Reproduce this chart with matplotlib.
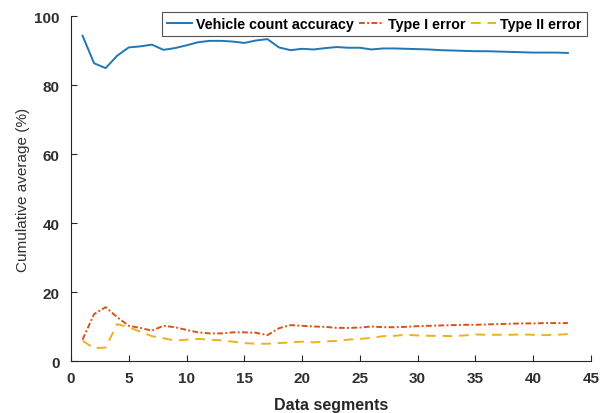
import matplotlib
matplotlib.use("Agg")
import matplotlib.pyplot as plt

# cumulative averages per data segment (%)
segments = list(range(1, 44))
accuracy = [94.3, 86.3, 84.9, 88.5, 90.9, 91.2, 91.7, 90.2, 90.7, 91.5,
            92.4, 92.8, 92.8, 92.6, 92.2, 92.9, 93.3, 90.9, 90.1, 90.5,
            90.3, 90.7, 91.0, 90.8, 90.8, 90.3, 90.6, 90.6, 90.5, 90.4,
            90.3, 90.1, 90.0, 89.9, 89.8, 89.8, 89.7, 89.6, 89.5, 89.4,
            89.4, 89.4, 89.3]
type1_err = [6.2, 13.6, 15.6, 12.7, 10.2, 9.6, 8.8, 10.2, 9.8, 9.0,
             8.3, 8.0, 8.0, 8.3, 8.3, 8.2, 7.5, 9.5, 10.4, 10.2,
             10.0, 9.9, 9.6, 9.6, 9.7, 10.0, 9.8, 9.8, 9.9, 10.1,
             10.2, 10.3, 10.4, 10.5, 10.5, 10.6, 10.7, 10.8, 10.9, 10.9,
             11.0, 11.0, 11.0]
type2_err = [5.9, 3.7, 3.9, 10.7, 9.8, 8.5, 7.2, 6.6, 5.9, 6.2,
             6.4, 6.2, 6.0, 5.6, 5.2, 5.0, 5.0, 5.2, 5.4, 5.6,
             5.4, 5.7, 5.8, 6.2, 6.4, 6.7, 7.2, 7.3, 7.6, 7.4,
             7.3, 7.3, 7.2, 7.4, 7.7, 7.6, 7.6, 7.6, 7.7, 7.6,
             7.5, 7.6, 7.8]

plt.rcParams['font.family'] = ['Liberation Sans', 'DejaVu Sans']

fig = plt.figure(figsize=(6.14, 4.14), dpi=100)
ax = fig.add_axes([0.1156, 0.1256, 0.8469, 0.8333])

ax.plot(segments, accuracy, color='#1f77b4', lw=1.4, label='Vehicle count accuracy')
ax.plot(segments, type1_err, color='#D95319', lw=1.4, ls='-.', dashes=(3, 1.2, 1, 1.2),
        label='Type I error')
ax.plot(segments, type2_err, color='#EDB120', lw=1.4, ls='--', dashes=(5, 3.5),
        label='Type II error')

ax.set_xlim(0, 45)
ax.set_ylim(0, 100)
ax.set_xticks(range(0, 46, 5))
ax.set_yticks(range(0, 101, 20))

for side in ('top', 'right'):
    ax.spines[side].set_visible(False)
for side in ('left', 'bottom'):
    ax.spines[side].set_color('#262626')
    ax.spines[side].set_linewidth(0.8)

ax.tick_params(direction='in', length=4, width=0.8, color='#262626',
               labelsize=11, labelcolor='#303030')
ax.tick_params(axis='x', pad=7)
ax.tick_params(axis='y', pad=8)
for lbl in ax.get_xticklabels() + ax.get_yticklabels():
    lbl.set_fontweight('bold')

ax.set_xlabel('Data segments', fontsize=11.5, fontweight='bold', color='#262626', labelpad=9)
ax.set_ylabel('Cumulative average (%)', fontsize=11, color='#303030', labelpad=3)

leg = ax.legend(loc='upper right', bbox_to_anchor=(0.992, 1.012), ncol=3,
                prop={'weight': 'bold', 'size': 10.3}, frameon=True, fancybox=False,
                handlelength=1.75, handletextpad=0.3, columnspacing=0.35,
                borderpad=0.35, borderaxespad=0.0)
leg.get_frame().set_edgecolor('#262626')
leg.get_frame().set_linewidth(0.8)

fig.savefig('out.png', dpi=100)
